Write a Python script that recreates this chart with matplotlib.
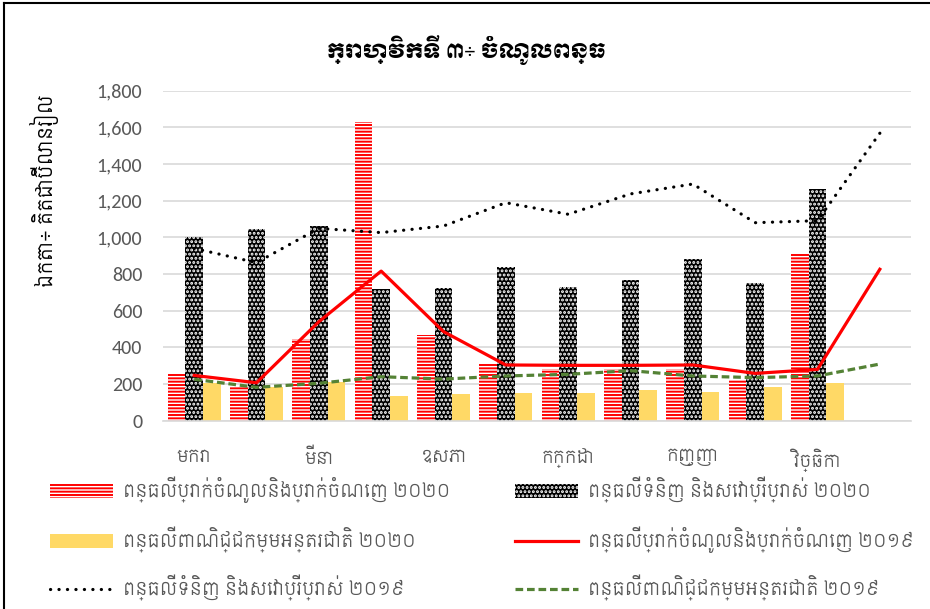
import matplotlib
matplotlib.use("Agg")
import matplotlib.pyplot as plt
from matplotlib.lines import Line2D
from matplotlib.patches import Patch
import numpy as np

# ---- data ----
months = ['មករា', 'កុម្ភៈ', 'មីនា', 'មេសា', 'ឧសភា', 'មិថុនា',
          'កក្កដា', 'សីហា', 'កញ្ញា', 'តុលា', 'វិច្ឆិកា', 'ធ្នូ']
income_2020 = [260, 190, 447, 1629, 466, 309, 280, 280, 280, 222, 913]
consumption_2020 = [1004, 1044, 1062, 720, 722, 840, 728, 767, 880, 753, 1262]
trade_2020 = [204, 182, 213, 135, 146, 153, 153, 167, 157, 182, 204]
income_2019 = [247, 207, 540, 816, 486, 304, 302, 302, 304, 258, 280, 826]
consumption_2019 = [940, 862, 1049, 1026, 1062, 1189, 1126, 1237, 1291, 1080, 1091, 1568]
trade_2019 = [226, 182, 204, 240, 227, 244, 253, 273, 244, 235, 244, 309]

labels = ['ពន្ធលើប្រាក់ចំណូលនិងប្រាក់ចំណេញ ២០២០',
          'ពន្ធលើទំនិញ និងសេវាប្រើប្រាស់ ២០២០',
          'ពន្ធលើពាណិជ្ជកម្មអន្តរជាតិ ២០២០',
          'ពន្ធលើប្រាក់ចំណូលនិងប្រាក់ចំណេញ ២០១៩',
          'ពន្ធលើទំនិញ និងសេវាប្រើប្រាស់ ២០១៩',
          'ពន្ធលើពាណិជ្ជកម្មអន្តរជាតិ ២០១៩']
title = 'ក្រាហ្វិកទី ៣÷ ចំណូលពន្ធ'
ylabel = 'ឯកតា÷ គិតជាប៊ីលានរៀល'
yticks = [0, 200, 400, 600, 800, 1000, 1200, 1400, 1600, 1800]

KHM = ['Siemreap', 'Noto Sans Khmer', 'DejaVu Sans']
TITLEF = ['Moul', 'Noto Sans Khmer', 'DejaVu Sans']
NUMF = ['Carlito', 'Liberation Sans', 'DejaVu Sans']
plt.rcParams['font.family'] = KHM
plt.rcParams['hatch.linewidth'] = 1.4

RED = '#FF0000'
YEL = '#FFD966'
GRN = '#548235'
TXT = '#595959'

fig = plt.figure(figsize=(9.3, 6.09), dpi=100)
W, H = 930, 609
ax = fig.add_axes([163 / W, 1 - 420.7 / H, (911 - 163) / W, (420.7 - 90.7) / H])

n20 = len(income_2020)
x20 = np.arange(n20)
x19 = np.arange(len(months))
bw = 0.283

ax.bar(x20 - bw, income_2020, bw, facecolor='white', edgecolor=RED,
       hatch='-----', linewidth=0, zorder=2)
ax.bar(x20, consumption_2020, bw, facecolor='black', edgecolor='white',
       hatch='....', linewidth=0, zorder=2)
ax.bar(x20 + bw, trade_2020, bw, color=YEL, linewidth=0, zorder=2)

l1, = ax.plot(x19, income_2019, color=RED, lw=2.3, zorder=3)
l2, = ax.plot(x19, consumption_2019, color='black', lw=2.3,
              linestyle=(0, (0.05, 2.6)), dash_capstyle='round', zorder=3)
l3, = ax.plot(x19, trade_2019, color=GRN, lw=2.3,
              linestyle=(0, (2.4, 1.2)), zorder=3)

ax.set_xlim(-0.5, len(months) - 0.5)
ax.set_ylim(0, 1800)
ax.set_yticks(yticks)
ax.set_yticklabels([f'{v:,}' for v in yticks], fontsize=14.5, color=TXT,
                   family=NUMF)
ax.set_xticks(x19)
ax.set_xticklabels([m if i % 2 == 0 else '' for i, m in enumerate(months)],
                   fontsize=12.5, color=TXT, family=KHM)
ax.tick_params(axis='both', length=0)
ax.tick_params(axis='x', pad=20)
ax.tick_params(axis='y', pad=15)
ax.grid(axis='y', color='#D9D9D9', lw=1.2, zorder=0)
ax.set_axisbelow(True)
for s in ['top', 'right', 'left']:
    ax.spines[s].set_visible(False)
ax.spines['bottom'].set_color('#D9D9D9')
ax.spines['bottom'].set_linewidth(1.2)

fig.text(466 / W, 1 - 50 / H, title, ha='center', va='center',
         fontsize=14.5, color='black', family=TITLEF)
fig.text(45 / W, 1 - 191 / H, ylabel, ha='center', va='center',
         rotation=90, fontsize=14, color='black', family=KHM)

h_red = Patch(facecolor='white', edgecolor=RED, hatch='-----', linewidth=0)
h_blk = Patch(facecolor='black', edgecolor='white', hatch='....', linewidth=0)
h_yel = Patch(facecolor=YEL, linewidth=0)

handles = [h_red, h_blk, h_yel, l1, l2, l3]
col_x = [50, 515]
row_y = [490, 540, 588]
fs = 13
fpx = fs * 100 / 72
for i, (h, lab) in enumerate(zip(handles, labels)):
    cx = col_x[i % 2]
    ry = row_y[i // 2]
    fig.legend([h], [lab], loc='center left',
               bbox_to_anchor=(cx / W, 1 - ry / H), frameon=False,
               prop={'family': KHM, 'size': fs}, labelcolor=TXT,
               handlelength=63 / fpx, handleheight=15 / fpx,
               handletextpad=10 / fpx, borderaxespad=0, borderpad=0)

fig.add_artist(Line2D([4 / W, 4 / W], [0, 1 - 3 / H], color='black', lw=1.5,
                      transform=fig.transFigure))
fig.add_artist(Line2D([4 / W, 1], [1 - 3 / H, 1 - 3 / H], color='black', lw=1.5,
                      transform=fig.transFigure))

fig.savefig('out.png', dpi=100)
